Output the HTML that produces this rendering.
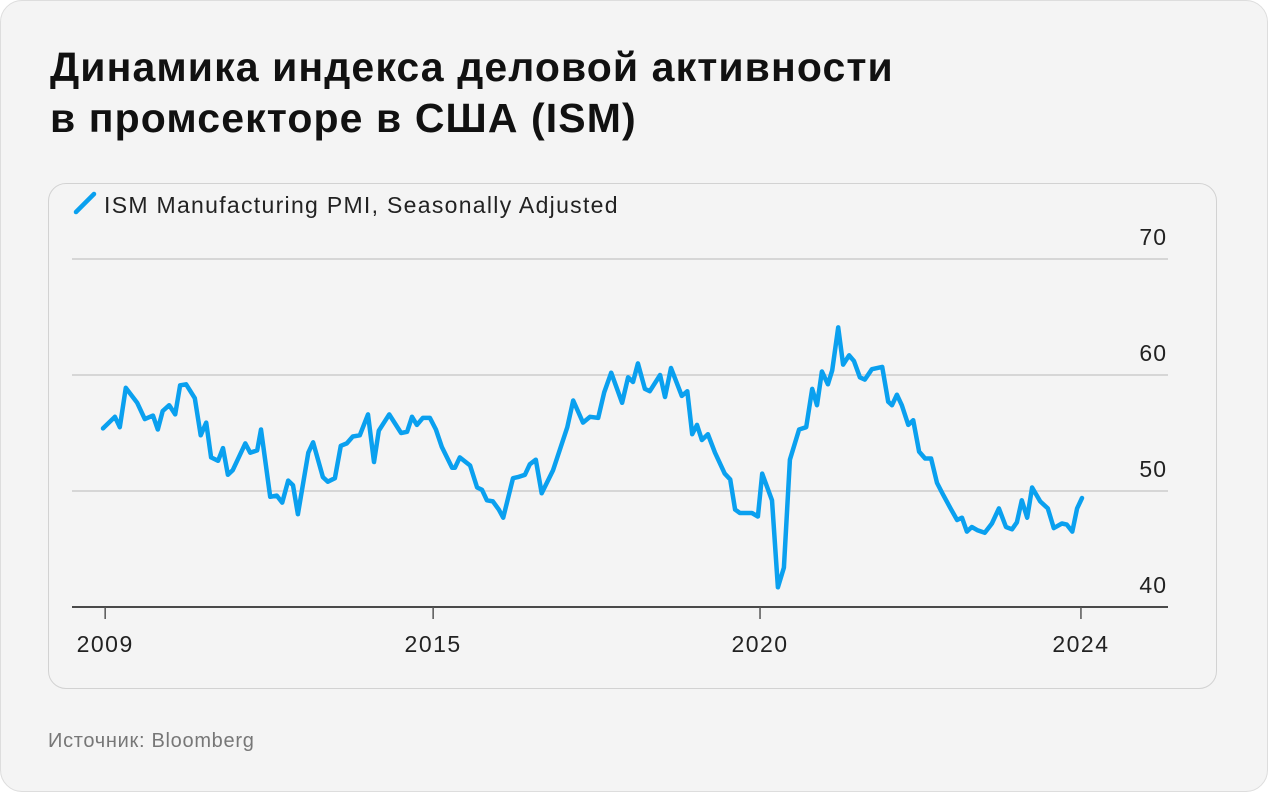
<!DOCTYPE html>
<html><head><meta charset="utf-8">
<style>
html,body{margin:0;padding:0;background:#fff;}
body{width:1268px;height:792px;position:relative;overflow:hidden;font-family:"Liberation Sans","DejaVu Sans",sans-serif;}
.outer{position:absolute;left:0;top:0;width:1266px;height:790px;background:#f4f4f4;border:1px solid #ddd;border-radius:22px;}
.title{position:absolute;left:50px;top:42px;font-size:41px;font-weight:bold;line-height:51px;color:#111;letter-spacing:1.1px;}
.card{position:absolute;left:48px;top:183px;width:1167px;height:504px;border:1px solid #d2d2d2;border-radius:18px;}
.source{position:absolute;left:48px;top:730px;font-size:20px;color:#777;letter-spacing:0.7px;}
svg{position:absolute;left:0;top:0;}
</style></head>
<body>
<div class="outer"></div>
<div class="title">Динамика индекса деловой активности<br>в промсекторе в США (ISM)</div>
<div class="card"></div>
<div class="source">Источник: Bloomberg</div>
<svg id="chart" width="1268" height="792">
  <line x1="76" y1="212" x2="94" y2="194" stroke="#0aa0ef" stroke-width="4.5" stroke-linecap="round"/>
  <text x="104" y="213" font-size="23" letter-spacing="1.3" fill="#222">ISM Manufacturing PMI, Seasonally Adjusted</text>
</svg>
<script>
const months=[0,2.2,3.1,4.2,6.3,7.7,9.2,10.1,11.0,12.2,13.3,14.2,15.3,16.9,18.0,19.0,19.9,21.2,22.1,23.0,23.9,26.2,27.1,28.4,29.1,30.8,32.0,33.0,34.1,35.0,35.9,37.8,38.7,40.5,41.4,42.7,43.8,44.9,46.0,47.3,48.8,49.9,50.8,52.7,54.9,56.0,56.9,57.8,58.9,60.2,61.3,62.4,64.3,64.8,65.7,67.6,68.9,69.8,70.7,71.8,72.9,73.7,75.5,76.4,77.7,78.6,79.7,80.8,82.9,85.5,86.6,88.4,89.7,91.2,92.3,93.6,95.6,96.7,97.6,98.5,99.8,100.7,102.6,103.5,104.6,106.6,107.6,108.5,109.4,110.3,111.4,112.7,114.5,115.5,116.4,117.3,119.5,120.6,121.4,123.2,124.3,125.4,126.5,128.2,129.5,130.6,131.5,132.4,133.5,134.3,135.4,136.3,137.4,138.3,139.4,140.3,141.6,143.5,144.6,145.3,146.2,147.1,148.3,149.2,150.3,151.4,152.5,153.6,154.7,156.2,157.3,158.2,159.1,160.0,161.1,162.4,163.7,165.0,166.3,167.4,168.3,169.2,170.2,171.1,172.6,174.0,175.1,176.6,177.5,178.5,179.4,180.3];
const pmi=[55.4,56.4,55.5,58.9,57.6,56.2,56.5,55.3,56.9,57.4,56.6,59.1,59.2,58.0,54.8,55.9,52.9,52.6,53.7,51.4,51.8,54.1,53.3,53.5,55.3,49.5,49.6,49.0,50.9,50.5,48.0,53.3,54.2,51.2,50.8,51.1,53.9,54.1,54.7,54.8,56.6,52.5,55.2,56.6,55.0,55.1,56.4,55.7,56.3,56.3,55.3,53.8,52.0,52.0,52.9,52.2,50.3,50.1,49.2,49.1,48.4,47.7,51.1,51.2,51.4,52.3,52.7,49.8,51.8,55.5,57.8,55.9,56.4,56.3,58.5,60.2,57.6,59.8,59.4,61.0,58.8,58.6,60.0,58.1,60.6,58.2,58.6,54.9,55.7,54.4,54.9,53.3,51.5,51.0,48.4,48.1,48.1,47.8,51.5,49.2,41.7,43.4,52.7,55.3,55.5,58.8,57.4,60.3,59.2,60.4,64.1,60.9,61.7,61.2,59.8,59.6,60.5,60.7,57.7,57.4,58.3,57.4,55.7,56.1,53.4,52.8,52.8,50.7,49.7,48.4,47.5,47.7,46.5,46.9,46.6,46.4,47.2,48.5,46.9,46.7,47.3,49.2,47.7,50.3,49.1,48.5,46.8,47.2,47.1,46.5,48.5,49.4];
const yTicks=[40,50,60,70];
const xTickPos=[0.4,60.8,121,180.1];
const xTickLabels=["2009","2015","2020","2024"];

const NS="http://www.w3.org/2000/svg";
const svg=document.getElementById('chart');
const xS=m=>103+m*5.43;
const yS=v=>607-(v-40)*11.6;
function mk(tag,attrs){const e=document.createElementNS(NS,tag);for(const k in attrs)e.setAttribute(k,attrs[k]);svg.appendChild(e);return e;}
yTicks.forEach(v=>{
  if(v>40){
    const g=mk('line',{x1:72,x2:1168,y1:yS(v),y2:yS(v),stroke:'#d6d6d6','stroke-width':2});
    
    
  }
  const t=mk('text',{x:1167,y:yS(v)-14,'font-size':23,'letter-spacing':1,fill:'#222','text-anchor':'end'});
  t.textContent=v;
  
  
});
const ax=mk('line',{x1:72,x2:1168,y1:607,y2:607,stroke:'#111','stroke-width':1.5});


xTickPos.forEach((m,i)=>{
  const tk=mk('line',{x1:xS(m),x2:xS(m),y1:607,y2:619,stroke:'#555','stroke-width':1.5});
  
  
  const t=mk('text',{x:xS(m),y:652,'font-size':23,'letter-spacing':1.5,fill:'#222','text-anchor':'middle'});
  t.textContent=xTickLabels[i];
  
  
});
const d=months.map((m,i)=>(i?'L':'M')+xS(m).toFixed(1)+','+yS(pmi[i]).toFixed(1)).join(' ');
const p=mk('path',{d:d,fill:'none',stroke:'#0aa0ef','stroke-width':4.5,'stroke-linejoin':'round','stroke-linecap':'round'});


</script>
</body></html>
